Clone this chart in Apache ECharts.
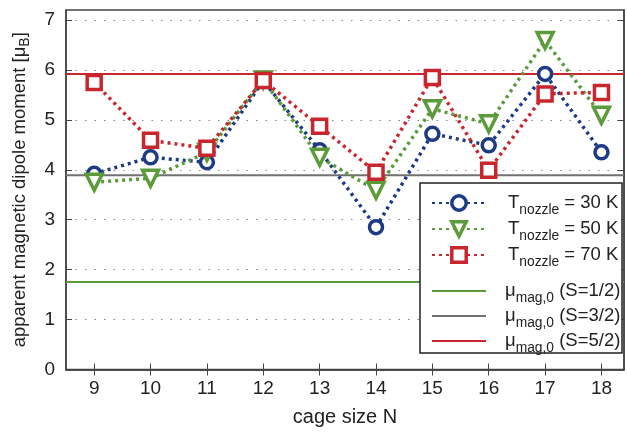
<!DOCTYPE html>
<html>
<head>
<meta charset="utf-8">
<script src="https://cdn.jsdelivr.net/npm/echarts@6/dist/echarts.min.js"></script>
<style>
  html, body { margin: 0; padding: 0; background: #fff; }
  #chart { width: 627px; height: 433px; }
</style>
</head>
<body>
<div id="chart"></div>
<script>
// cage size N
var cageSize = [9, 10, 11, 12, 13, 14, 15, 16, 17, 18];
// apparent magnetic moment
var t30 = [3.92, 4.25, 4.15, 5.78, 4.39, 2.85, 4.72, 4.49, 5.92, 4.35];
var t50 = [3.75, 3.83, 4.35, 5.80, 4.25, 3.59, 5.22, 4.92, 6.59, 5.09];
var t70 = [5.75, 4.59, 4.43, 5.79, 4.87, 3.95, 5.85, 3.99, 5.52, 5.55];
// reference levels mu_mag,0
var muLevels = [1.75, 3.89, 5.92];
var muLabels = ['S=1/2', 'S=3/2', 'S=5/2'];
var yTicks = [0, 1, 2, 3, 4, 5, 6, 7];

var xMin = 8.5, xMax = 18.4;
var font = 'Liberation Sans';

var blue = '#1d3a84', green = '#5b9b3a', red = '#c9252c';
var muColors = ['#5b9b3a', '#707070', '#c9252c'];

function pts(vals) {
  return cageSize.map(function (n, i) { return [n, vals[i]]; });
}

var tSeries = [
  { name: 'T30', data: t30, color: blue, symbol: 'circle', size: 13, rot: 0 },
  { name: 'T50', data: t50, color: green, symbol: 'triangle', size: 16, rot: 180 },
  { name: 'T70', data: t70, color: red, symbol: 'rect', size: 14, rot: 0 }
].map(function (s) {
  return {
    name: s.name,
    type: 'line',
    data: pts(s.data),
    symbol: s.symbol,
    symbolSize: s.size,
    symbolRotate: s.rot,
    showAllSymbol: true,
    color: s.color,
    lineStyle: { color: s.color, width: 3.5, type: [3, 4] },
    itemStyle: { color: '#fff', borderColor: s.color, borderWidth: 3.5 },
    z: 5
  };
});

var muSeries = muLevels.map(function (v, i) {
  return {
    name: 'mu' + i,
    type: 'line',
    data: [[xMin, v], [xMax, v]],
    symbol: 'none',
    color: muColors[i],
    lineStyle: { color: muColors[i], width: 2 },
    z: 3
  };
});

function legendRich(gap) {
  return {
    g: { width: gap },
    t: { fontFamily: font, fontSize: 18.5, color: '#222', lineHeight: 28 },
    s: { fontFamily: font, fontSize: 13.8, color: '#222', lineHeight: 14, padding: [14, 0, 0, 0] }
  };
}

var chart = echarts.init(document.getElementById('chart'));
chart.setOption({
  animation: false,
  backgroundColor: '#fff',
  textStyle: { fontFamily: font },
  grid: { left: 66, top: 10, right: 3, bottom: 63.5, show: true, borderColor: '#444', borderWidth: 1.5 },
  graphic: [{
    type: 'rect',
    shape: { x: 420, y: 183, width: 202, height: 170 },
    style: { fill: '#fff', stroke: '#222', lineWidth: 1.5 },
    z: 10
  }],
  legend: [{
    data: ['T30', 'T50', 'T70'],
    orient: 'vertical',
    left: 431, top: 189,
    padding: 0,
    itemWidth: 54, itemHeight: 18, itemGap: -2,
    itemStyle: { borderWidth: 3.5 },
    z: 20,
    formatter: function (name) {
      return '{g|}{t|T}{s|nozzle}{t| = ' + name.slice(1) + ' K}';
    },
    textStyle: { rich: legendRich(17), fontSize: 18.5 }
  }, {
    data: ['mu0', 'mu1', 'mu2'],
    orient: 'vertical',
    left: 431, top: 277,
    padding: 0,
    itemWidth: 54, itemHeight: 16, itemGap: -3,
    itemStyle: { opacity: 0 },
    z: 20,
    formatter: function (name) {
      return '{g|}{t|μ}{s|mag,0}{t| (' + muLabels[+name.slice(2)] + ')}';
    },
    textStyle: { rich: legendRich(14), fontSize: 18.5 }
  }],
  xAxis: [{
    type: 'value',
    min: xMin, max: xMax,
    name: 'cage size N',
    nameLocation: 'middle',
    nameGap: 38,
    nameTextStyle: { fontFamily: font, fontSize: 20, color: '#222' },
    axisLine: { lineStyle: { color: '#444', width: 1.5 } },
    axisTick: { inside: true, length: 6, customValues: cageSize, lineStyle: { color: '#444' } },
    axisLabel: { customValues: cageSize, fontFamily: font, fontSize: 19, color: '#222', margin: 10 },
    splitLine: { show: false }
  }, {
    type: 'value',
    position: 'top',
    min: xMin, max: xMax,
    axisLine: { lineStyle: { color: '#444', width: 1.5 } },
    axisTick: { inside: true, length: 6, customValues: cageSize, lineStyle: { color: '#444' } },
    axisLabel: { show: false },
    splitLine: { show: false }
  }],
  yAxis: [{
    type: 'value',
    min: 0, max: 7.2, interval: 1,
    name: '{t|apparent magnetic dipole moment [μ}{b|B}{t|]}',
    nameLocation: 'middle',
    nameGap: 34,
    nameTextStyle: {
      rich: {
        t: { fontFamily: font, fontSize: 18.5, color: '#222' },
        b: { fontFamily: font, fontSize: 14, color: '#222', padding: [10, 0, 0, 0] }
      }
    },
    axisLine: { lineStyle: { color: '#444', width: 1.5 } },
    axisTick: { inside: true, length: 6, customValues: yTicks, lineStyle: { color: '#444' } },
    axisLabel: {
      fontFamily: font, fontSize: 19, color: '#222', margin: 11,
      customValues: yTicks
    },
    splitLine: { show: true, lineStyle: { color: '#888', width: 1, type: [1.5, 8] } }
  }, {
    type: 'value',
    position: 'right',
    min: 0, max: 7.2, interval: 1,
    axisLine: { lineStyle: { color: '#444', width: 1.5 } },
    axisTick: { inside: true, length: 6, customValues: yTicks, lineStyle: { color: '#444' } },
    axisLabel: { show: false },
    splitLine: { show: false }
  }],
  series: muSeries.concat(tSeries)
});
</script>
</body>
</html>
